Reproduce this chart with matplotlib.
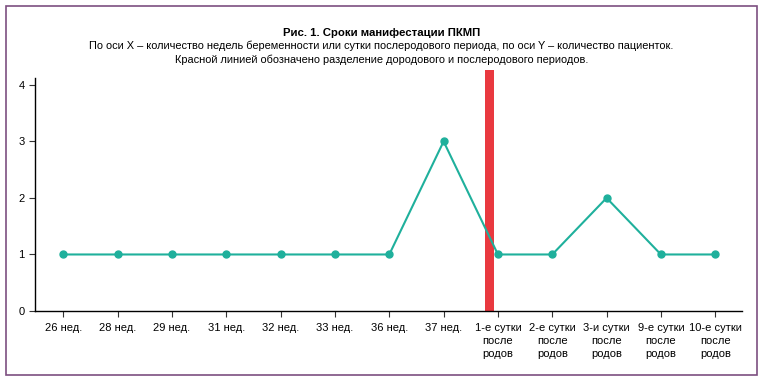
import matplotlib
matplotlib.use("Agg")
import matplotlib.pyplot as plt
from matplotlib.patches import Rectangle

categories = [
    "26 нед.", "28 нед.", "29 нед.", "31 нед.", "32 нед.", "33 нед.", "36 нед.", "37 нед.",
    "1-е сутки\nпосле\nродов", "2-е сутки\nпосле\nродов", "3-и сутки\nпосле\nродов",
    "9-е сутки\nпосле\nродов", "10-е сутки\nпосле\nродов",
]
patients = [1, 1, 1, 1, 1, 1, 1, 3, 1, 1, 2, 1, 1]
divider_x = 7.84  # between 37 нед. and 1-е сутки
y_ticks = [0, 1, 2, 3, 4]

title = "Рис. 1. Сроки манифестации ПКМП"
subtitle = ("По оси X – количество недель беременности или сутки послеродового периода, "
            "по оси Y – количество пациенток.\n"
            "Красной линией обозначено разделение дородового и послеродового периодов.")

plt.rcParams["font.family"] = ["Liberation Sans", "DejaVu Sans"]

fig = plt.figure(figsize=(7.63, 3.83), dpi=100)
ax = fig.add_axes([0.046, 0.188, 0.927, 0.608])

x = list(range(len(categories)))
ax.plot(x, patients, color="#1fb09c", linewidth=1.5, marker="o", markersize=5, zorder=3)
ax.bar(divider_x, 4.27, width=0.17, bottom=0, color="#e9393f", clip_on=False, zorder=2)

ax.set_xlim(-0.52, 12.5)
ax.set_ylim(0, 4.12)
ax.set_xticks(x)
ax.set_xticklabels(categories, fontsize=8, linespacing=1.32)
ax.set_yticks(y_ticks)
ax.tick_params(axis="both", labelsize=8, length=4, width=0.8, color="#333333")
ax.tick_params(axis="x", pad=5)
for s in ["top", "right"]:
    ax.spines[s].set_visible(False)
ax.spines["left"].set_linewidth(1.0)
ax.spines["bottom"].set_linewidth(1.0)

fig.text(0.5, 0.915, title, ha="center", va="center", fontsize=8.2, fontweight="bold")
fig.text(0.5, 0.895, subtitle, ha="center", va="top", fontsize=7.9, linespacing=1.45)

fig.patches.append(Rectangle((0.008, 0.022), 0.984, 0.963, transform=fig.transFigure,
                             fill=False, edgecolor="#7d4f80", linewidth=1.2))

plt.savefig("out.png", dpi=100)
plt.close()
